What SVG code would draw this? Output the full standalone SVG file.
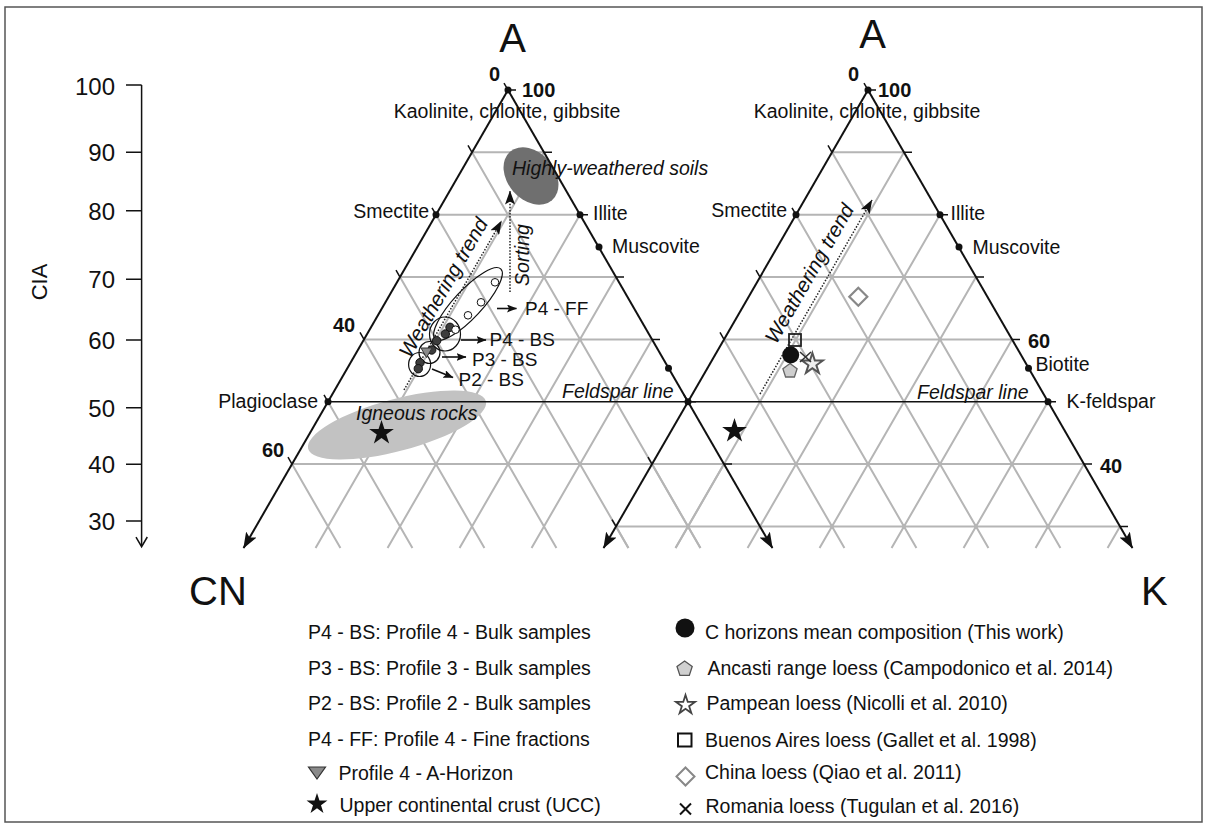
<svg xmlns="http://www.w3.org/2000/svg" width="1207" height="825" viewBox="0 0 1207 825">
<style>
.grid{stroke:#b5b5b5;stroke-width:2;fill:none}
.edge{stroke:#111;stroke-width:2;fill:none}
.tick{stroke:#111;stroke-width:1.5;fill:none}
.t{font-family:"Liberation Sans",Arial,Helvetica,sans-serif;fill:#111}
.lab{font-size:19.5px}
.pl{font-size:19px}
.it{font-style:italic}
.b{font-weight:bold;font-size:20px}
.dot{fill:#111}
.trend{stroke:#222;stroke-width:1.5;stroke-dasharray:1.5 1.6;fill:none}
.arr{stroke:#111;stroke-width:1.6;fill:none}
.ring{stroke:#111;stroke-width:1.2;fill:none}
.dk{fill:#3c3c3c;stroke:#111;stroke-width:1}
.wh{fill:#fff;stroke:#111;stroke-width:1}
</style>
<defs>
<marker id="ahBig" viewBox="0 0 16 12" refX="15.5" refY="6" markerWidth="16" markerHeight="12" orient="auto" markerUnits="userSpaceOnUse"><path d="M0,0 L16,6 L0,12 L3.5,6 Z" fill="#111"/></marker>
<marker id="ahMid" viewBox="0 0 14 10" refX="13.5" refY="5" markerWidth="14" markerHeight="10" orient="auto" markerUnits="userSpaceOnUse"><path d="M0,0 L14,5 L0,10 L3,5 Z" fill="#111"/></marker>
<marker id="ahSm" viewBox="0 0 10 8" refX="9.5" refY="4" markerWidth="10" markerHeight="8" orient="auto" markerUnits="userSpaceOnUse"><path d="M0,0 L10,4 L0,8 L2,4 Z" fill="#111"/></marker>
<path id="star13" d="M0,-13 L2.92,-4.02 L12.36,-4.02 L4.73,1.54 L7.64,10.52 L0,4.97 L-7.64,10.52 L-4.73,1.54 L-12.36,-4.02 L-2.92,-4.02 Z"/>
<path id="star11" d="M0,-11 L2.47,-3.4 L10.46,-3.4 L4,1.3 L6.47,8.9 L0,4.2 L-6.47,8.9 L-4,1.3 L-10.46,-3.4 L-2.47,-3.4 Z"/>
<path id="star10" d="M0,-10 L2.25,-3.09 L9.51,-3.09 L3.63,1.18 L5.88,8.09 L0,3.82 L-5.88,8.09 L-3.63,1.18 L-9.51,-3.09 L-2.25,-3.09 Z"/>
<path id="pent8" d="M0,-8 L7.61,-2.47 L4.7,6.47 L-4.7,6.47 L-7.61,-2.47 Z"/>
</defs>

<rect id="frame" x="5" y="7" width="1197" height="815" fill="#fff" stroke="#555" stroke-width="1.5"/>

<!-- CIA axis -->
<g id="cia-axis">
<path class="tick" d="M141.6,85V546 M126,85H141.6 M126,152.3H141.6 M126,210.7H141.6 M126,279.3H141.6 M126,340H141.6 M126,407.7H141.6 M126,464.3H141.6 M126,521H141.6"/>
<polyline points="136,537 141.6,546.7 147.3,537" fill="none" stroke="#111" stroke-width="1.5"/>
<g class="t" font-size="24px" text-anchor="end">
<text x="115" y="94.5">100</text>
<text x="115" y="161">90</text>
<text x="115" y="219.5">80</text>
<text x="115" y="288">70</text>
<text x="115" y="348.5">60</text>
<text x="115" y="416.5">50</text>
<text x="115" y="473">40</text>
<text x="115" y="529.5">30</text>
</g>
<text class="t" font-size="22px" text-anchor="middle" transform="translate(47,282) rotate(-90)">CIA</text>
</g>

<!-- grids -->
<g id="grid">
<path class="grid" d="M472,152.35H544 M436,214.71H580 M400,277.06H616 M364,339.42H652 M292,464.12H724
M472,152.35L700.43,548 M436,214.71L628.43,548 M400,277.06L556.43,548 M364,339.42L484.43,548 M328,401.77L412.43,548 M292,464.12L340.43,548
M544,152.35L315.57,548 M580,214.71L387.57,548 M616,277.06L459.57,548 M652,339.42L531.57,548 M724,464.12L675.57,548"/>
<path class="grid" d="M832,152.35H904 M796,214.71H940 M760,277.06H976 M724,339.42H1012 M652,464.12H1084 M616,526.48H1120
M832,152.35L1060.43,548 M796,214.71L988.43,548 M760,277.06L916.43,548 M724,339.42L844.43,548 M652,464.12L700.43,548 M616,526.48L628.43,548
M904,152.35L675.57,548 M940,214.71L747.57,548 M976,277.06L819.57,548 M1012,339.42L891.57,548 M1048,401.77L963.57,548 M1084,464.12L1035.57,548 M1120,526.48L1107.57,548"/>
</g>

<!-- fields -->
<g id="igneous-rocks">
<ellipse cx="397" cy="425" rx="92" ry="26" transform="rotate(-15 397 425)" fill="#c2c2c2"/>
<text class="t lab it" x="356" y="420">Igneous rocks</text>
</g>
<g id="highly-weathered-soils">
<ellipse cx="531" cy="176" rx="32" ry="23.5" transform="rotate(49 531 176)" fill="#6f6f6f"/>
</g>

<!-- triangle edges and feldspar line -->
<g id="triangles">
<line class="edge" x1="508" y1="90" x2="243.57" y2="548" marker-end="url(#ahBig)"/>
<line class="edge" x1="508" y1="90" x2="772.43" y2="548" marker-end="url(#ahBig)"/>
<line class="edge" x1="868" y1="90" x2="603.57" y2="548" marker-end="url(#ahBig)"/>
<line class="edge" x1="868" y1="90" x2="1132.43" y2="548" marker-end="url(#ahBig)"/>
<line x1="328" y1="401.77" x2="1048" y2="401.77" stroke="#111" stroke-width="1.6"/>
<path class="tick" d="M508,90L504,83.07 M472,152.35L468,145.42 M436,214.71L432,207.78 M400,277.06L396,270.13 M364,339.42L360,332.49 M328,401.77L324,394.84 M292,464.12L288,457.19
M868,90L864,83.07 M832,152.35L828,145.42 M796,214.71L792,207.78 M760,277.06L756,270.13 M724,339.42L720,332.49 M688,401.77L684,394.84 M652,464.12L648,457.19 M616,526.48L612,519.55
M508,90H516 M544,152.35H552 M580,214.71H588 M616,277.06H624 M652,339.42H660 M688,401.77H696 M724,464.12H732
M868,90H876 M904,152.35H912 M940,214.71H948 M976,277.06H984 M1012,339.42H1020 M1048,401.77H1056 M1084,464.12H1092 M1120,526.48H1128"/>
</g>

<text class="t lab it" x="512" y="175">Highly-weathered soils</text>

<!-- vertex / mineral labels -->
<g id="label-A-left"><text class="t" font-size="40px" text-anchor="middle" x="512.5" y="52">A</text></g>
<g id="label-A-right"><text class="t" font-size="40px" text-anchor="middle" x="872.5" y="48">A</text></g>
<g id="label-CN"><text class="t" font-size="40px" x="189" y="605">CN</text></g>
<g id="label-K"><text class="t" font-size="40px" x="1141" y="605">K</text></g>

<g id="minerals-left">
<circle class="dot" cx="508" cy="90" r="3.5"/>
<circle class="dot" cx="436" cy="214.71" r="3.5"/>
<circle class="dot" cx="580" cy="214.71" r="3.5"/>
<circle class="dot" cx="599" cy="247" r="3.5"/>
<circle class="dot" cx="668.5" cy="368.3" r="3.5"/>
<circle class="dot" cx="328" cy="401.77" r="3.5"/>
<circle class="dot" cx="688" cy="401.77" r="3.5"/>
<text class="t b" x="489" y="81">0</text>
<text class="t b" x="522" y="97">100</text>
<text class="t lab" x="507" y="118" text-anchor="middle">Kaolinite, chlorite, gibbsite</text>
<text class="t lab" x="429" y="217.5" text-anchor="end">Smectite</text>
<text class="t lab" x="593" y="220">Illite</text>
<text class="t lab" x="612" y="253">Muscovite</text>
<text class="t lab" x="318" y="408" text-anchor="end">Plagioclase</text>
<text class="t b" x="333" y="332">40</text>
<text class="t b" x="262" y="457">60</text>
<text class="t lab it" x="562" y="398">Feldspar line</text>
</g>

<g id="minerals-right">
<circle class="dot" cx="868" cy="90" r="3.5"/>
<circle class="dot" cx="796" cy="214.71" r="3.5"/>
<circle class="dot" cx="940" cy="214.71" r="3.5"/>
<circle class="dot" cx="959" cy="247" r="3.5"/>
<circle class="dot" cx="1028.5" cy="368.3" r="3.5"/>
<circle class="dot" cx="1048" cy="401.77" r="3.5"/>
<text class="t b" x="848" y="81">0</text>
<text class="t b" x="878" y="97">100</text>
<text class="t lab" x="867" y="118" text-anchor="middle">Kaolinite, chlorite, gibbsite</text>
<text class="t lab" x="787" y="217" text-anchor="end">Smectite</text>
<text class="t lab" x="950.5" y="220">Illite</text>
<text class="t lab" x="972.5" y="254">Muscovite</text>
<text class="t b" x="1028" y="348">60</text>
<text class="t lab" x="1035.5" y="371">Biotite</text>
<text class="t lab" x="1066.5" y="408">K-feldspar</text>
<text class="t b" x="1100" y="472.5">40</text>
<text class="t lab it" x="917" y="399">Feldspar line</text>
</g>

<!-- connectors: trends and label arrows -->
<g id="connectors">
<line class="trend" x1="404" y1="390" x2="501.5" y2="221" marker-end="url(#ahMid)"/>
<line class="trend" x1="510" y1="292" x2="510" y2="191" marker-end="url(#ahMid)"/>
<line class="trend" x1="760" y1="394" x2="872" y2="200" marker-end="url(#ahMid)"/>
<line class="arr" x1="497" y1="308.5" x2="516.5" y2="308.5" marker-end="url(#ahSm)"/>
<line class="arr" x1="461" y1="340" x2="486" y2="340" marker-end="url(#ahSm)"/>
<line class="arr" x1="442" y1="357" x2="466" y2="357" marker-end="url(#ahSm)"/>
<line class="arr" x1="432" y1="369" x2="453" y2="377.5" marker-end="url(#ahSm)"/>
</g>

<g id="trend-labels">
<text class="t it" font-size="20.5px" text-anchor="middle" transform="translate(449.5,291) rotate(-60)">Weathering trend</text>
<text class="t lab it" text-anchor="middle" transform="translate(529,255) rotate(-90)">Sorting</text>
<text class="t it" font-size="20.5px" text-anchor="middle" transform="translate(815.5,277) rotate(-60)">Weathering trend</text>
</g>

<!-- left triangle data -->
<g id="data-left">
<ellipse class="ring" cx="468" cy="304" rx="48" ry="14" transform="rotate(-47 468 304)"/>
<ellipse class="ring" cx="445" cy="334" rx="15.5" ry="17"/>
<ellipse class="ring" cx="429.5" cy="352.5" rx="10.5" ry="11"/>
<ellipse class="ring" cx="419.6" cy="364.5" rx="11" ry="12"/>
<circle class="wh" cx="495" cy="282.3" r="3.8"/>
<circle class="wh" cx="481" cy="302.3" r="3.8"/>
<circle class="wh" cx="468" cy="315.3" r="3.8"/>
<circle class="dk" cx="450" cy="327.3" r="4.2"/>
<circle class="wh" cx="455.5" cy="329.7" r="3.8"/>
<circle class="dk" cx="445.3" cy="334" r="4.2"/>
<circle class="dk" cx="436.7" cy="340.7" r="4.2"/>
<circle class="dk" cx="431.7" cy="350" r="4.2"/>
<polygon points="421,348 432,348 426.5,357.5" fill="#8a8a8a" stroke="#333" stroke-width="1"/>
<circle class="dk" cx="420" cy="362.7" r="4.2"/>
<circle class="dk" cx="418.3" cy="368.7" r="4.2"/>
<use href="#star13" x="381.5" y="433" fill="#111"/>
<text class="t pl" x="525" y="315">P4 - FF</text>
<text class="t pl" x="489.5" y="345.5">P4 - BS</text>
<text class="t pl" x="472" y="365.5">P3 - BS</text>
<text class="t pl" x="458.5" y="385.5">P2 - BS</text>
</g>

<!-- right triangle data -->
<g id="data-right">
<use href="#star13" x="734.5" y="431" fill="#111"/>
<polygon points="858.3,287.7 867.3,296.7 858.3,305.7 849.3,296.7" fill="#fff" stroke="#888" stroke-width="2.2"/>
<rect x="789" y="334" width="12" height="12" fill="none" stroke="#222" stroke-width="1.8"/>
<polygon points="790,363.5 797.1,368.7 794.4,377 785.6,377 782.9,368.7" fill="#cfcfcf" stroke="#666" stroke-width="1.3"/>
<circle cx="790.7" cy="355" r="8.5" fill="#111"/>
<use href="#star11" x="812.4" y="364" fill="#eee" stroke="#555" stroke-width="2"/>
<path d="M800,352 L811,362 M811,352 L800,362" stroke="#333" stroke-width="1.6"/>
</g>

<!-- legend -->
<g id="legend-left" class="t lab">
<text x="308" y="638.5">P4 - BS: Profile 4 - Bulk samples</text>
<text x="308" y="674.5">P3 - BS: Profile 3 - Bulk samples</text>
<text x="308" y="710">P2 - BS: Profile 2 - Bulk samples</text>
<text x="308" y="746">P4 - FF: Profile 4 - Fine fractions</text>
<polygon points="308.5,767 325.5,767 317,779" fill="#8a8a8a" stroke="#333" stroke-width="1.2"/>
<text x="338.5" y="780">Profile 4 - A-Horizon</text>
<use href="#star11" x="317" y="804" fill="#111"/>
<text x="339.5" y="812">Upper continental crust (UCC)</text>
</g>
<g id="legend-right" class="t lab">
<circle cx="685" cy="628" r="9.5" fill="#111"/>
<text x="705" y="638.5">C horizons mean composition (This work)</text>
<use href="#pent8" x="684.6" y="669" fill="#d0d0d0" stroke="#555" stroke-width="1.3"/>
<text x="707.5" y="674.5">Ancasti range loess (Campodonico et al. 2014)</text>
<use href="#star10" x="685.5" y="705" fill="#fff" stroke="#444" stroke-width="1.8"/>
<text x="706.5" y="710">Pampean loess (Nicolli et al. 2010)</text>
<rect x="678" y="733.5" width="13.5" height="13" fill="none" stroke="#111" stroke-width="2"/>
<text x="705" y="746.5">Buenos Aires loess (Gallet et al. 1998)</text>
<polygon points="685.5,767.5 694.5,776.5 685.5,785.5 676.5,776.5" fill="#fff" stroke="#888" stroke-width="2"/>
<text x="705" y="778.5">China loess (Qiao et al. 2011)</text>
<path d="M680,803.5 L691,814.5 M691,803.5 L680,814.5" stroke="#111" stroke-width="2"/>
<text x="705.5" y="813">Romania loess (Tugulan et al. 2016)</text>
</g>
</svg>
